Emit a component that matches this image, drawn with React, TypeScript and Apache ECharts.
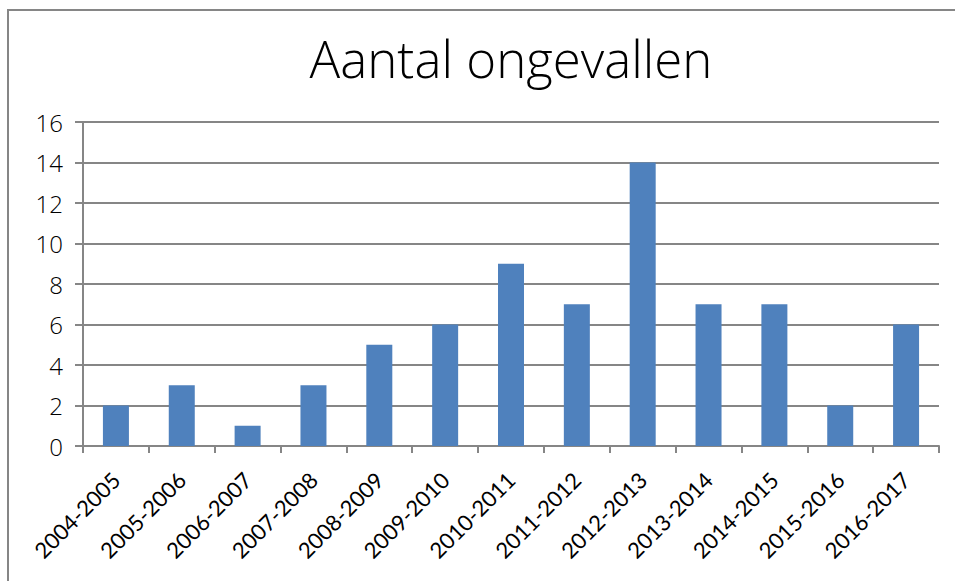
import React, { useEffect, useRef } from "react";
import * as echarts from "echarts";

const categories = [
  "2004-2005", "2005-2006", "2006-2007", "2007-2008", "2008-2009", "2009-2010",
  "2010-2011", "2011-2012", "2012-2013", "2013-2014", "2014-2015", "2015-2016", "2016-2017",
];
const values = [2, 3, 1, 3, 5, 6, 9, 7, 14, 7, 7, 2, 6];
const titleText = "Aantal ongevallen";

export default function App() {
  const ref = useRef<HTMLDivElement>(null);
  useEffect(() => {
    if (!ref.current) return;
    const chart = echarts.init(ref.current, undefined, { renderer: "svg" });
    chart.setOption({
      animation: false,
      backgroundColor: "#ffffff",
      graphic: [
        {
          type: "rect",
          shape: { x: 8, y: 10, width: 1000, height: 620 },
          style: { fill: "none", stroke: "#868686", lineWidth: 2 },
          silent: true,
        },
      ],
      title: {
        text: titleText,
        left: 506,
        textAlign: "center",
        top: 27,
        textStyle: {
          fontFamily: "Open Sans",
          fontWeight: 300,
          fontSize: 51,
          color: "#000000",
        },
      },
      grid: { left: 83, right: 16, top: 122, bottom: 135, containLabel: false },
      xAxis: {
        type: "category",
        data: categories,
        axisLine: { show: true, lineStyle: { color: "#868686", width: 2 } },
        axisTick: { show: true, length: 7, alignWithLabel: false, lineStyle: { color: "#868686", width: 2 } },
        axisLabel: {
          rotate: 45,
          margin: 30,
          interval: 0,
          fontFamily: "Lato",
          fontSize: 22,
          color: "#000000",
        },
      },
      yAxis: {
        type: "value",
        min: 0,
        max: 16,
        interval: 2,
        axisLine: { show: true, lineStyle: { color: "#868686", width: 2 } },
        axisTick: { show: true, length: 8, lineStyle: { color: "#868686", width: 2 } },
        splitLine: { show: true, lineStyle: { color: "#868686", width: 2 } },
        axisLabel: {
          margin: 20,
          fontFamily: "Open Sans",
          fontWeight: 300,
          fontSize: 24,
          color: "#000000",
        },
      },
      series: [
        {
          type: "bar",
          data: values,
          barWidth: 26,
          itemStyle: { color: "#4F81BD" },
        },
      ],
    });
    return () => chart.dispose();
  }, []);
  return (
    <div
      ref={ref}
      style={{ position: "fixed", left: 0, top: 0, width: 955, height: 581 }}
    />
  );
}
